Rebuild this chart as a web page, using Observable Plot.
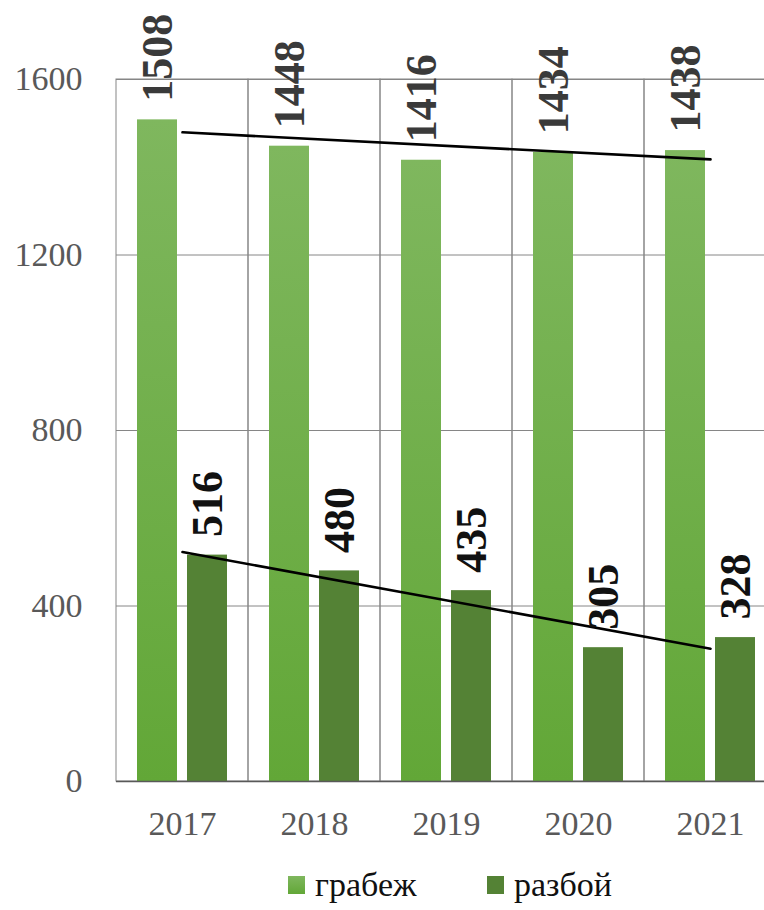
<!DOCTYPE html>
<html>
<head>
<meta charset="utf-8">
<script src="https://cdn.jsdelivr.net/npm/d3@7"></script>
<script src="https://cdn.jsdelivr.net/npm/@observablehq/plot@0.6"></script>
<style>
  html, body { margin: 0; padding: 0; background: #fff; overflow: hidden; }
  #wrap { position: relative; width: 764px; height: 910px; font-family: 'Liberation Serif', 'Times New Roman', 'DejaVu Serif', serif; }
  #chart svg { display: block; }
  #chart svg text { font-family: 'Liberation Serif', 'Times New Roman', 'DejaVu Serif', serif !important; }
  .legend { position: absolute; top: 866px; left: 0; width: 764px; height: 42px; }
  .legend .item { position: absolute; top: 0; display: flex; align-items: center; font-size: 34px; color: #111; }
  .legend .sw { width: 17px; height: 18px; margin-right: 10px; }
</style>
</head>
<body>
<div id="wrap">
  <div id="chart"></div>
  <div class="legend" id="legend"></div>
</div>
<script>
// ---- data ----
const years = ["2017", "2018", "2019", "2020", "2021"];
const seriesNames = ["грабеж", "разбой"];
const grabezh = [1508, 1448, 1416, 1434, 1438];
const razboi = [516, 480, 435, 305, 328];
const yTicks = [0, 400, 800, 1200, 1600];
const seriesColors = ["#6fae47", "#548235"];

// ---- derived tables ----
const rowsG = years.map((y, i) => ({year: y, value: grabezh[i]}));
const rowsR = years.map((y, i) => ({year: y, value: razboi[i]}));

function trend(vals) {
  const n = vals.length;
  const xs = vals.map((_, i) => i);
  const mx = d3.mean(xs), my = d3.mean(vals);
  const slope = d3.sum(xs, (x, i) => (x - mx) * (vals[i] - my)) / d3.sum(xs, x => (x - mx) ** 2);
  const icpt = my - slope * mx;
  return [
    {year: years[0], v: icpt},
    {year: years[n - 1], v: icpt + slope * (n - 1)}
  ];
}

const plot = Plot.plot({
  width: 764,
  height: 860,
  marginTop: 79,
  marginBottom: 79,
  marginLeft: 116,
  marginRight: 0,
  style: {fontSize: "34px", color: "#595959", background: "#fff"},
  x: {type: "band", domain: years, range: [116, 776], padding: 0, tickSize: 0, tickPadding: 29, label: null},
  y: {domain: [0, 1600], ticks: yTicks, tickSize: 0, tickPadding: 34, label: null, tickFormat: d => String(d)},
  marks: [
    Plot.ruleY(yTicks, {stroke: "#868686", strokeWidth: 1}),
    Plot.barY(years, {x: d => d, y1: 0, y2: 1600, fill: "none", stroke: "#868686", strokeWidth: 1}),
    Plot.barY(rowsG, {x: "year", y: "value", fill: "url(#gradG)", insetLeft: 21, insetRight: 71}),
    Plot.barY(rowsR, {x: "year", y: "value", fill: seriesColors[1], insetLeft: 71, insetRight: 21}),
    Plot.ruleY([0], {stroke: "#595959", strokeWidth: 1.5}),
    Plot.line(trend(grabezh), {x: "year", y: "v", stroke: "#000", strokeWidth: 2.6}),
    Plot.line(trend(razboi), {x: "year", y: "v", stroke: "#000", strokeWidth: 2.6}),
    Plot.text(rowsG, {x: "year", y: "value", text: d => String(d.value), rotate: -90, textAnchor: "start", lineAnchor: "middle", dx: -25, dy: -18, fontSize: 44, fontWeight: "bold", fill: "#3a3a3a"}),
    Plot.text(rowsR, {x: "year", y: "value", text: d => String(d.value), rotate: -90, textAnchor: "start", lineAnchor: "middle", dx: 25, dy: -18, fontSize: 44, fontWeight: "bold", fill: "#111"})
  ]
});

const defs = d3.select(plot).insert("defs", ":first-child");
const g = defs.append("linearGradient").attr("id", "gradG").attr("x1", 0).attr("y1", 0).attr("x2", 0).attr("y2", 1);
g.append("stop").attr("offset", "0%").attr("stop-color", "#7fb75e");
g.append("stop").attr("offset", "100%").attr("stop-color", "#62a737");

document.getElementById("chart").appendChild(plot);

// ---- legend ----
const legendPos = [288, 487];
const legend = document.getElementById("legend");
seriesNames.forEach((name, i) => {
  const it = document.createElement("div");
  it.className = "item";
  it.style.left = legendPos[i] + "px";
  const sw = document.createElement("span");
  sw.className = "sw";
  sw.style.background = i === 0 ? "linear-gradient(#7fb75e, #62a737)" : seriesColors[1];
  const tx = document.createElement("span");
  tx.textContent = name;
  it.appendChild(sw);
  it.appendChild(tx);
  legend.appendChild(it);
});
</script>
</body>
</html>
